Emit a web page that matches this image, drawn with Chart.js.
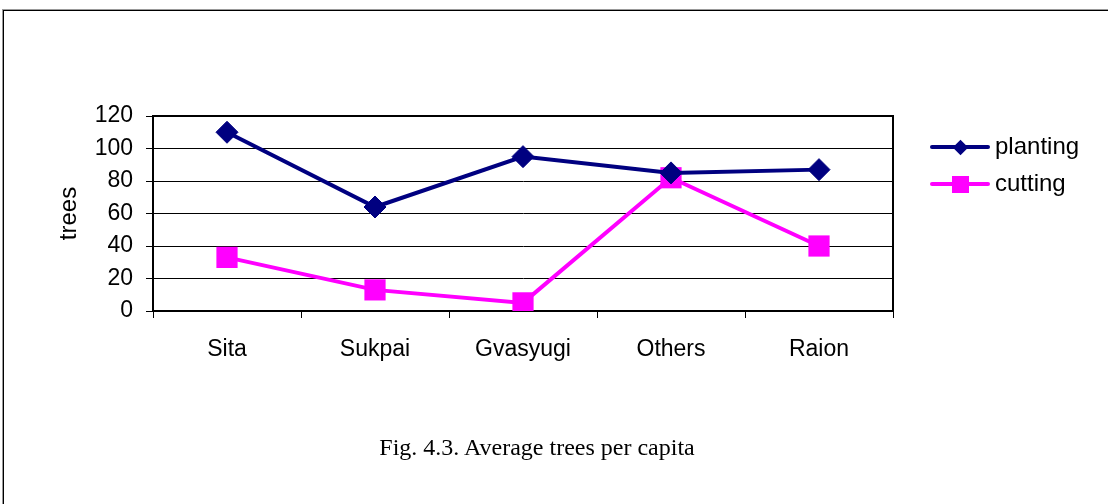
<!DOCTYPE html>
<html>
<head>
<meta charset="utf-8">
<script src="https://cdn.jsdelivr.net/npm/chart.js@4"></script>
<style>
  html, body { margin:0; padding:0; background:#fff; }
  body { width:1108px; height:504px; position:relative; overflow:hidden; }
  #frame { position:absolute; left:3px; top:10px; width:1120px; height:520px;
           border-left:1px solid #000; border-top:1px solid #000; box-shadow:-1px -1px 0 #999; }
  #wrap { position:absolute; left:0; top:0; width:1108px; height:504px; }
  .leg { position:absolute; font-family:"Liberation Sans", Arial, sans-serif; font-size:24px; color:#000; }
  .leg .ln { position:absolute; left:0; width:60px; height:4px; border-radius:2px; top:-2px; }
  .leg .mk { position:absolute; }
  .leg .tx { position:absolute; left:65px; top:-15px; white-space:nowrap; line-height:28px; }
  #caption { position:absolute; left:0; width:1074px; top:433px; text-align:center; line-height:28px;
             font-family:"Liberation Serif", "Times New Roman", serif; font-size:24px; color:#000; }
</style>
</head>
<body>
<div id="frame"></div>
<div id="wrap"><canvas id="c" width="1108" height="504"></canvas></div>
<div class="leg" id="leg1" style="left:930px; top:147px;">
  <div class="ln" style="background:#000080"></div>
  <div class="mk" style="left:25px; top:-5px; width:11px; height:11px; background:#000080; transform:rotate(45deg);"></div>
  <div class="tx">planting</div>
</div>
<div class="leg" id="leg2" style="left:930px; top:184px;">
  <div class="ln" style="background:#FF00FF"></div>
  <div class="mk" style="left:22px; top:-8px; width:17px; height:17px; background:#FF00FF;"></div>
  <div class="tx">cutting</div>
</div>
<div id="caption">Fig. 4.3. Average trees per capita</div>
<script>
const categories = ["Sita", "Sukpai", "Gvasyugi", "Others", "Raion"];
const planting = [110, 64, 95, 85, 87];
const cutting = [33, 13, 5, 82, 40];
const yTicks = [0, 20, 40, 60, 80, 100, 120];

const frameBorder = {
  id: 'frameBorder',
  afterDraw(chart) {
    const {ctx, chartArea: a} = chart;
    ctx.save();
    ctx.strokeStyle = '#000';
    ctx.lineWidth = 2;
    ctx.beginPath();
    ctx.moveTo(a.left, a.top);
    ctx.lineTo(a.right, a.top);
    ctx.lineTo(a.right, a.bottom);
    ctx.stroke();
    ctx.restore();
  }
};

new Chart(document.getElementById('c'), {
  type: 'line',
  data: {
    labels: categories,
    datasets: [
      { label: 'planting', data: planting, borderColor: '#000080', backgroundColor: '#000080',
        borderWidth: 4, pointStyle: 'rectRot', pointRadius: 11, pointHoverRadius: 11,
        pointBorderWidth: 1, tension: 0 },
      { label: 'cutting', data: cutting, borderColor: '#FF00FF', backgroundColor: '#FF00FF',
        borderWidth: 4, pointStyle: 'rect', pointRadius: 15, pointHoverRadius: 15,
        pointBorderWidth: 0, tension: 0 }
    ]
  },
  options: {
    responsive: false,
    animation: false,
    events: [],
    layout: { padding: { left: 55, right: 215, top: 116, bottom: 133 } },
    plugins: { legend: { display: false }, tooltip: { enabled: false } },
    scales: {
      x: {
        offset: true,
        grid: { offset: true, drawOnChartArea: false, drawTicks: true, tickLength: 7, color: '#000', lineWidth: 1 },
        border: { display: true, color: '#000', width: 2 },
        ticks: { padding: 18, color: '#000', font: { family: '"Liberation Sans", Arial', size: 23 }, maxRotation: 0 },
        afterFit(s) { s.height = 60; }
      },
      y: {
        min: 0, max: 120,
        afterBuildTicks(s) { s.ticks = yTicks.map(v => ({ value: v })); },
        grid: { color: '#000', lineWidth: 1, drawTicks: true, tickLength: 7 },
        border: { display: true, color: '#000', width: 2 },
        ticks: { padding: 13, color: '#000', font: { family: '"Liberation Sans", Arial', size: 23 } },
        title: { display: true, text: 'trees', color: '#000', padding: 0,
                 font: { family: '"Liberation Sans", Arial', size: 24 } },
        afterFit(s) { s.width = 98; }
      }
    }
  },
  plugins: [frameBorder]
});
</script>
</body>
</html>
